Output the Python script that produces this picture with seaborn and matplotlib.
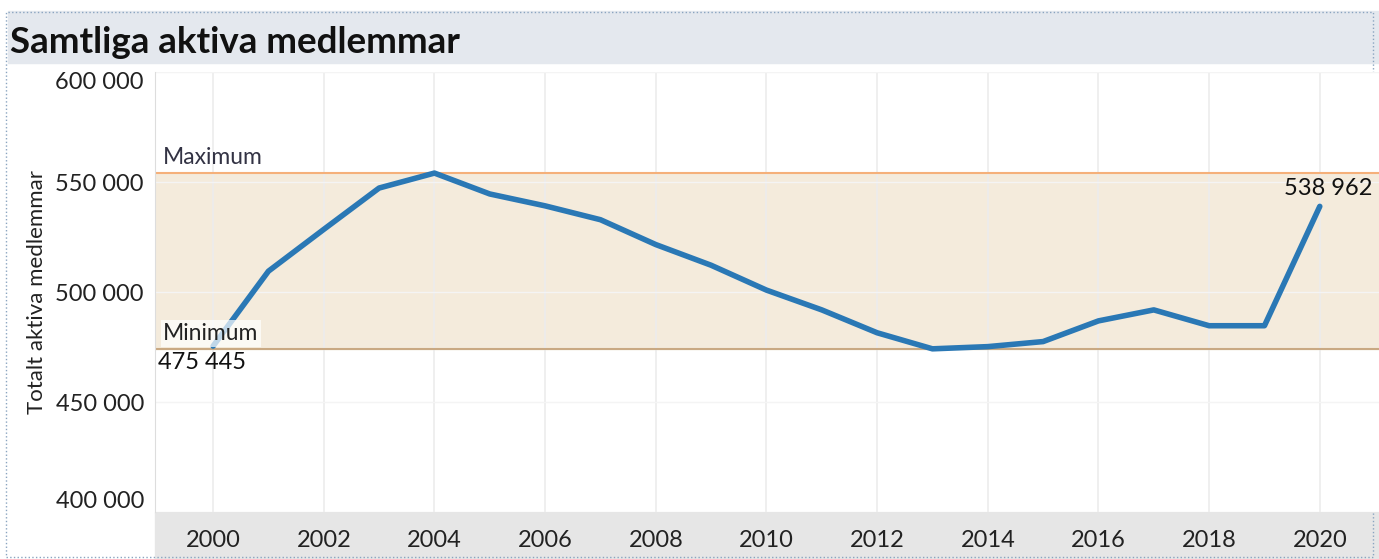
import pandas as pd
import matplotlib.pyplot as plt
import matplotlib.ticker as mticker
from matplotlib.patches import Rectangle
import seaborn as sns

sns.set_style('white')
plt.rcParams['font.family'] = ['Lato', 'DejaVu Sans']

# data
years = list(range(2000, 2021))
members = [475445, 509500, 528500, 547300, 554100, 544600, 539200, 532900,
           521600, 512200, 500900, 491900, 481500, 474200, 475200, 477500,
           486900, 491900, 484700, 484700, 538962]
yticks = [400000, 450000, 500000, 550000, 600000]
xticks = list(range(2000, 2021, 2))

df = pd.DataFrame({'year': years, 'members': members})
lo, hi = df['members'].min(), df['members'].max()

fig = plt.figure(figsize=(13.79, 5.59), dpi=100)
ax = fig.add_axes([0.1124, 0.084, 0.8876, 0.787])
ax.set_zorder(2)

# title bar + x-axis band
fig.patches.append(Rectangle((0.006, 0.888), 0.994, 0.092, transform=fig.transFigure,
                             color='#e4e8ee', zorder=-1))
fig.patches.append(Rectangle((0.1124, 0.0), 0.8876, 0.084, transform=fig.transFigure,
                             color='#e6e6e6', zorder=-1))
fig.patches.append(Rectangle((0.004, 0.004), 0.992, 0.975, transform=fig.transFigure,
                             fill=False, ec='#8aa4c0', lw=1, ls=':', zorder=-1))
fig.text(0.007, 0.924, 'Samtliga aktiva medlemmar', fontsize=26.5, fontweight='bold',
         va='center', ha='left', color='#111111')

# min/max band
ax.axhspan(lo, hi, color='#f4ebdc', zorder=0)
ax.axhline(hi, color='#f5b07a', lw=1.5, zorder=1)
ax.axhline(lo, color='#c9a983', lw=1.5, zorder=1)

sns.lineplot(data=df, x='year', y='members', color='#2a78b5', lw=4, ax=ax, zorder=3)

ax.set_xlim(1998.95, 2021.07)
ax.set_ylim(400000, 600000)
ax.set_xticks(xticks)
ax.set_yticks(yticks)
ax.yaxis.set_major_formatter(mticker.FuncFormatter(lambda v, p: f'{int(v):,}'.replace(',', ' ')))
ax.tick_params(axis='y', labelsize=17, length=4, color='#cccccc', pad=4, labelcolor='#222222')
ax.tick_params(axis='x', labelsize=17, length=0, pad=13, labelcolor='#222222')
ylabs = ax.get_yticklabels()
ylabs[0].set_va('bottom')
ylabs[-1].set_va('top')
ax.grid(True, axis='x', color='#ececec', lw=1.2)
ax.grid(True, axis='y', color='#f4f4f4', lw=1)
ax.set_axisbelow(True)
for s in ['top', 'right', 'bottom']:
    ax.spines[s].set_visible(False)
ax.spines['left'].set_color('#dddddd')
ax.set_xlabel('')
ax.set_ylabel('Totalt aktiva medlemmar', fontsize=16, color='#222222', labelpad=6)

ax.text(1999.1, hi + 2200, 'Maximum', fontsize=16.5, color='#333344', va='bottom')
ax.text(1999.1, lo + 2200, 'Minimum', fontsize=16.5, color='#222222', va='bottom',
        bbox=dict(fc='white', ec='none', alpha=0.7, pad=2))
ax.text(years[0] - 1.0, members[0] - 2800, f'{members[0]:,}'.replace(',', ' '),
        fontsize=17, va='top', ha='left', color='#111111')
ax.text(years[-1] + 0.95, members[-1] + 3500, f'{members[-1]:,}'.replace(',', ' '),
        fontsize=17, va='bottom', ha='right', color='#111111')

fig.savefig('out.png', dpi=100)
